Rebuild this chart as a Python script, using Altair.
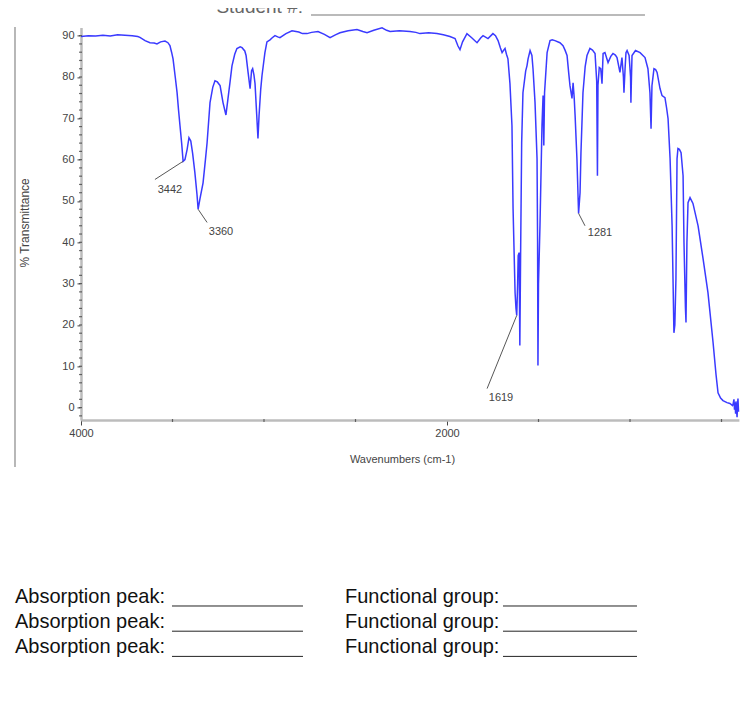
import altair as alt
import pandas as pd

# ---- spectrum ----
wavenumber = [4000, 3960, 3920, 3880, 3840, 3800, 3760, 3720, 3690, 3678, 3650, 3623, 3600, 3585, 3565,
              3541, 3525, 3514, 3505, 3497, 3485, 3475, 3467, 3459, 3450, 3442, 3432, 3420, 3410, 3400,
              3390, 3378, 3366, 3360, 3350, 3333, 3320, 3311, 3295, 3280, 3268, 3255, 3240, 3224, 3208,
              3197, 3185, 3175, 3160, 3148, 3130, 3120, 3105, 3098, 3087, 3076, 3068, 3062, 3055, 3049,
              3040, 3033, 3027, 3018, 3011, 2995, 2984, 2967, 2955, 2940, 2925, 2913, 2880, 2847, 2810,
              2790, 2765, 2740, 2705, 2670, 2639, 2610, 2585, 2540, 2492, 2460, 2437, 2400, 2355, 2330,
              2311, 2260, 2202, 2170, 2148, 2100, 2055, 2020, 1984, 1956, 1940, 1929, 1915, 1891, 1865,
              1836, 1815, 1803, 1776, 1749, 1735, 1721, 1708, 1699, 1690, 1683, 1675, 1667, 1656, 1645,
              1639, 1628, 1623, 1619, 1614, 1611, 1606, 1602, 1598, 1592, 1585, 1570, 1563, 1557, 1546,
              1536, 1530, 1519, 1508, 1505, 1503, 1500, 1492, 1481, 1475, 1471, 1467, 1453, 1437, 1425,
              1410, 1383, 1366, 1355, 1344, 1335, 1328, 1317, 1311, 1305, 1300, 1290, 1281, 1273, 1268,
              1257, 1245, 1235, 1219, 1205, 1191, 1182, 1178, 1175, 1168, 1160, 1153, 1147, 1137, 1120,
              1105, 1093, 1080, 1071, 1055, 1044, 1036, 1033, 1027, 1022, 1016, 1005, 997, 995, 992,
              989, 970, 945, 918, 902, 891, 885, 880, 869, 860, 852, 836, 825, 809, 800,
              792, 781, 770, 765, 760, 755, 749, 743, 738, 730, 721, 710, 705, 697, 694,
              689, 683, 672, 656, 628, 601, 574, 546, 530, 519, 505, 492, 470, 454, 440,
              437, 432, 429, 426, 423, 421, 418, 415, 412, 410, 407]
transmittance = [89.8, 90.0, 89.9, 90.1, 89.9, 90.2, 90.1, 90.0, 89.8, 89.6, 88.8, 88.3, 88.2, 88.0, 88.5,
                 88.7, 88.3, 87.6, 86.0, 84.4, 80.0, 76.2, 72.0, 68.2, 64.0, 59.6, 60.0, 62.5, 65.3, 64.5,
                 61.5, 57.0, 51.5, 48.0, 50.5, 54.4, 60.0, 64.1, 73.8, 77.5, 79.1, 78.8, 77.9, 73.8, 70.8,
                 74.7, 79.0, 82.7, 85.5, 86.9, 87.3, 87.1, 86.3, 85.2, 81.1, 77.2, 81.5, 82.0, 80.5, 78.4,
                 71.0, 65.1, 70.7, 77.0, 80.3, 85.9, 88.5, 89.0, 89.5, 90.0, 89.7, 89.5, 90.5, 91.2, 90.9,
                 90.5, 90.5, 90.8, 91.0, 90.3, 89.5, 90.2, 90.7, 91.2, 91.5, 91.0, 90.7, 91.3, 91.9, 91.3,
                 91.0, 91.2, 91.0, 90.8, 90.5, 90.7, 90.5, 90.2, 89.8, 89.3, 87.5, 86.6, 88.5, 90.5, 89.5,
                 88.3, 89.5, 90.0, 89.3, 90.5, 90.0, 88.8, 87.0, 85.9, 86.5, 86.9, 85.5, 84.4, 78.4, 68.2,
                 48.1, 27.8, 24.0, 22.3, 30.0, 36.8, 37.5, 15.0, 36.1, 64.1, 76.2, 81.5, 82.7, 84.4, 86.4,
                 85.2, 82.0, 73.8, 60.2, 40.0, 10.2, 30.0, 44.0, 68.2, 75.5, 63.4, 76.2, 85.9, 88.8, 89.0,
                 88.8, 88.3, 87.6, 86.5, 85.2, 81.0, 77.9, 74.8, 78.6, 75.0, 70.7, 60.2, 47.0, 52.0, 61.7,
                 76.2, 82.5, 85.2, 86.9, 86.5, 85.7, 79.0, 56.1, 78.0, 82.3, 82.0, 78.4, 85.7, 85.9, 83.5,
                 85.0, 85.7, 85.3, 84.7, 81.1, 84.7, 80.0, 76.2, 82.0, 85.9, 86.4, 85.2, 80.0, 73.8, 80.0,
                 85.2, 86.4, 85.9, 84.7, 82.0, 76.2, 67.5, 77.9, 82.0, 81.8, 81.1, 77.2, 75.5, 75.0, 72.5,
                 69.9, 60.2, 44.0, 31.2, 18.1, 20.0, 31.2, 60.2, 62.7, 62.5, 61.7, 56.1, 39.9, 24.0, 20.6,
                 39.9, 49.6, 50.8, 49.4, 44.0, 36.1, 27.8, 15.7, 8.0, 3.6, 2.3, 1.7, 1.2, 1.0, 0.5,
                 0.8, 2.0, -0.5, 1.2, -1.5, 1.5, -0.5, -2.3, 1.0, 2.2, -1.0]

# ---- peak annotations ----
peak_labels = ["3442", "3360", "1619", "1281"]
peak_wn = [3442, 3360, 1619, 1281]
peak_t = [59.6, 48.0, 22.3, 47.0]
leader_wn = [3596, 3311, 1781, 1246]
leader_t = [55.2, 44.8, 4.6, 44.0]
label_wn = [3514, 3235, 1705, 1164]
label_t = [52.7, 42.6, 2.4, 42.3]

# ---- axes ----
y_major = [0, 10, 20, 30, 40, 50, 60, 70, 80, 90]
y_minor = list(range(-2, 92, 2))
x_labeled = [4000, 2000]
x_minor = [3500, 3000, 2500, 1500, 1000, 500]

row_left = "Absorption peak:"
row_right = "Functional group:"
n_rows = 3

FONT = "Liberation Sans"
W = 657.9
H = 392.6

spec = pd.DataFrame({"wn": wavenumber, "t": transmittance, "i": range(len(wavenumber))})
peaks = pd.DataFrame({"wn": peak_wn, "t": peak_t, "wn2": leader_wn, "t2": leader_t,
                      "lwn": label_wn, "lt": label_t, "label": peak_labels})
one = pd.DataFrame({"k": [0]})

xscale = alt.Scale(domain=[405, 4000], reverse=True, nice=False, zero=False)
yscale = alt.Scale(domain=[-3, 92], nice=False, zero=False)

xaxis = alt.Axis(
    values=x_labeled, format="d", title="Wavenumbers (cm-1)", grid=False,
    tickSize=5, tickColor="#444", tickWidth=1,
    domainColor="#bcbcbc", domainWidth=2.5,
    labelFont=FONT, labelFontSize=11, labelColor="#444", labelPadding=3, labelFlush=False,
    titleFont=FONT, titleFontSize=11, titleFontWeight="normal", titleColor="#444",
    titleX=321, titleY=34, titleBaseline="top")
yaxis = alt.Axis(
    values=y_major, title="% Transmittance", grid=False,
    tickSize=4, tickColor="#444", tickWidth=1,
    domainColor="#bcbcbc", domainWidth=2.5,
    labelFont=FONT, labelFontSize=11, labelColor="#444", labelPadding=3, labelFlush=False,
    titleFont=FONT, titleFontSize=12, titleFontWeight="normal", titleColor="#444",
    titleX=-56, titleY=195, titleBaseline="middle", titleAlign="center")

X = alt.X("wn:Q", scale=xscale, axis=xaxis)
Y = alt.Y("t:Q", scale=yscale, axis=yaxis)

line = alt.Chart(spec).mark_line(color="#3a3aff", strokeWidth=1.5).encode(x=X, y=Y, order="i:Q")

yminor = alt.Chart(pd.DataFrame({"t": y_minor})).mark_tick(
    orient="horizontal", size=3, thickness=1.2, color="#333").encode(y=Y, x=alt.value(-0.5))
xminor = alt.Chart(pd.DataFrame({"wn": x_minor})).mark_tick(
    orient="vertical", size=3, thickness=1.2, color="#333").encode(x=X, y=alt.value(H + 0.5))

leaders = alt.Chart(peaks).mark_rule(color="#555", strokeWidth=1).encode(
    x=X, y=Y, x2="wn2:Q", y2="t2:Q")
plabels = alt.Chart(peaks).mark_text(font=FONT, fontSize=11, color="#444").encode(
    x=alt.X("lwn:Q", scale=xscale, axis=xaxis), y=alt.Y("lt:Q", scale=yscale, axis=yaxis), text="label:N")

# page coords -> plot coords: x - 81, y - 27.4
frame = alt.Chart(one).mark_rule(color="#a0a0a0", strokeWidth=1.5).encode(
    x=alt.value(-66), y=alt.value(-0.4), y2=alt.value(439.6))

header_text = alt.Chart(one).mark_text(font=FONT, fontSize=19, color="#666", align="right",
                                       baseline="alphabetic").encode(
    x=alt.value(222), y=alt.value(-14.4), text=alt.value("Student #:"))
header_line = alt.Chart(one).mark_rule(color="#777", strokeWidth=1.2).encode(
    x=alt.value(230), x2=alt.value(564), y=alt.value(-12.4))

layers = [line, yminor, xminor, leaders, plabels, frame, header_text, header_line]

for r in range(n_rows):
    base_y = 575.6 + 25.2 * r
    layers.append(alt.Chart(one).mark_text(font=FONT, fontSize=20, color="#111", align="left",
                                           baseline="alphabetic").encode(
        x=alt.value(-66), y=alt.value(base_y), text=alt.value(row_left)))
    layers.append(alt.Chart(one).mark_rule(color="#222", strokeWidth=1).encode(
        x=alt.value(91), x2=alt.value(222), y=alt.value(base_y + 3)))
    layers.append(alt.Chart(one).mark_text(font=FONT, fontSize=20, color="#111", align="left",
                                           baseline="alphabetic").encode(
        x=alt.value(264), y=alt.value(base_y), text=alt.value(row_right)))
    layers.append(alt.Chart(one).mark_rule(color="#222", strokeWidth=1).encode(
        x=alt.value(422), x2=alt.value(556), y=alt.value(base_y + 3)))

chart = alt.layer(*layers).properties(
    width=W, height=H,
    padding={"left": 73, "top": 19.4, "right": 2, "bottom": 285},
    autosize=alt.AutoSizeParams(type="none"),
    background="white",
).configure_view(stroke=None)

chart.save("out.html", embed_options={"renderer": "svg", "actions": False})
